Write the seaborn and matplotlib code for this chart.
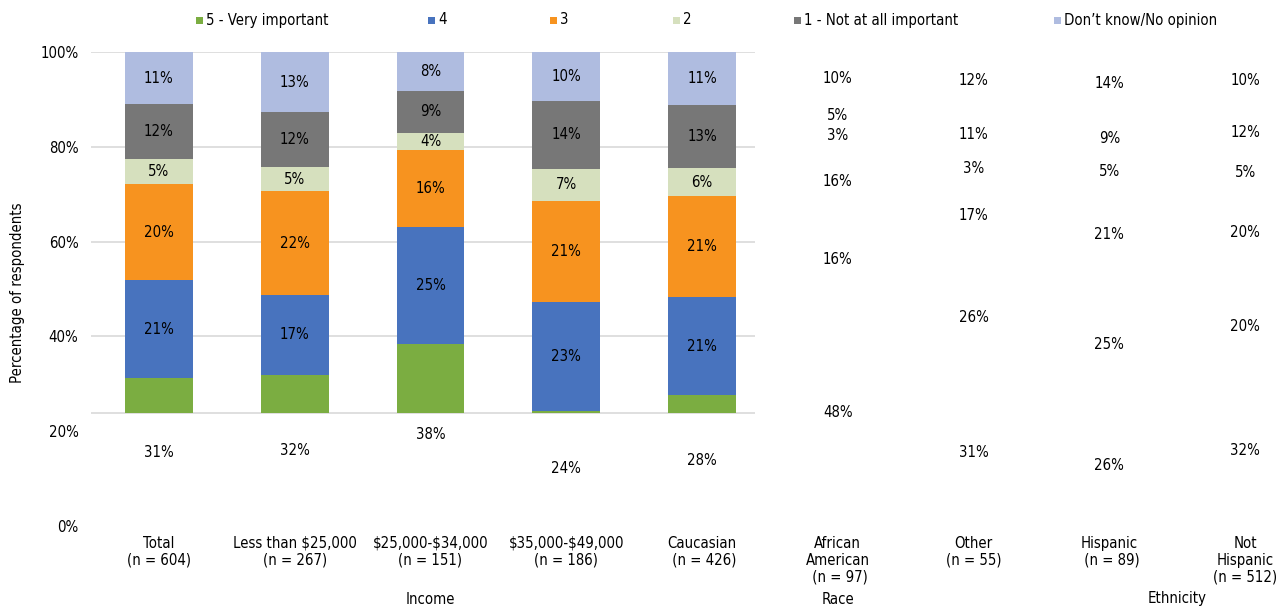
import numpy as np
import pandas as pd
import seaborn as sns
import matplotlib
matplotlib.use("Agg")
import matplotlib.pyplot as plt
from matplotlib.patches import Rectangle
from matplotlib.transforms import blended_transform_factory

# ---------------- data ----------------
categories = [
    "Total\n(n = 604)",
    "Less than \\$25,000\n(n = 267)",
    "\\$25,000\u2010\\$34,000\n(n = 151)",
    "\\$35,000\u2010\\$49,000\n(n = 186)",
    "Caucasian\n (n = 426)",
    "African\nAmerican\n (n = 97)",
    "Other\n(n = 55)",
    "Hispanic\n (n = 89)",
    "Not\nHispanic\n(n = 512)",
]
groups = ["Income", "Race", "Ethnicity"]
group_members = [[1, 2, 3], [4, 5, 6], [7, 8]]

series_names = ["5 - Very important", "4", "3", "2",
                "1 - Not at all important", "Don\u2019t know/No opinion"]
very_important = [31.2, 31.9, 38.4, 24.3, 27.6, 48.1, 31, 25.6, 32]
four = [20.6, 16.8, 24.6, 23.0, 20.7, 16.4, 26, 25.4, 20]
three = [20.4, 22.0, 16.4, 21.3, 21.3, 16.4, 17, 21.2, 20]
two = [5.2, 5.0, 3.6, 6.7, 5.9, 3.0, 3, 5.0, 5]
not_important = [11.6, 11.6, 8.7, 14.4, 13.4, 5.4, 11, 9.3, 12]
dont_know = [11.0, 12.7, 8.3, 10.3, 11.1, 10.2, 12, 13.5, 10]
series_values = [very_important, four, three, two, not_important, dont_know]
colors = ["#7BAD41", "#4873BE", "#F7931F", "#D6E0BE", "#777777", "#AFBCE0"]
y_ticks = [0, 20, 40, 60, 80, 100]
y_label = "Percentage of respondents"

# ---------------- style ----------------
sns.set_theme(style="white")
plt.rcParams["font.family"] = ["DejaVu Sans"]
plt.rcParams["font.stretch"] = "condensed"
FS = 10.7
W, H = 1281, 606
fig = plt.figure(figsize=(W / 100, H / 100), dpi=100, facecolor="white")
ax = fig.add_axes([91 / W, 80 / H, 1222 / W, 474 / H])
ax.set_facecolor("white")

# visible (clipped) plot window, data units
CLIP_X = 4.39
CLIP_Y = 23.8
clip_rect = Rectangle((-0.5, CLIP_Y), CLIP_X + 0.5, 100.6 - CLIP_Y,
                      transform=ax.transData, facecolor="none", edgecolor="none")

# gridlines
ax.hlines([t for t in y_ticks if t >= 40] + [CLIP_Y], -0.5, CLIP_X,
          colors="#D9D9D9", linewidth=1.2, zorder=0.5)

# stacked bars via seaborn (cumulative tops, drawn from top layer down)
vals = np.array(series_values, dtype=float)
cum = np.cumsum(vals, axis=0)
df = pd.DataFrame({"cat": categories})
for i in range(len(series_names) - 1, -1, -1):
    df["top"] = cum[i]
    sns.barplot(data=df, x="cat", y="top", order=categories, color=colors[i],
                saturation=1, width=0.5, linewidth=0, ax=ax, zorder=2)

for p in ax.patches:
    p.set_clip_path(clip_rect)

# data labels
for i in range(len(series_names)):
    bottoms = cum[i] - vals[i]
    for j in range(len(categories)):
        v = vals[i][j]
        ax.text(j, bottoms[j] + v / 2, f"{v:.0f}%", ha="center", va="center",
                fontsize=FS, color="black", zorder=5, clip_on=False)

ax.set_xlim(-0.5, 8.5)
ax.set_ylim(0, 100)
ax.set_yticks(y_ticks)
ax.set_yticklabels([f"{t}%" for t in y_ticks], fontsize=FS, color="black")
ax.set_xticks(range(len(categories)))
ax.set_xticklabels(categories, fontsize=FS, color="black", linespacing=1.17)
ax.tick_params(axis="both", length=0)
ax.tick_params(axis="y", pad=9)
ax.tick_params(axis="x", pad=7)
ax.set_xlabel("")
ax.set_ylabel("")
for s in ax.spines.values():
    s.set_visible(False)
ax.grid(False)

# group labels
tr = blended_transform_factory(ax.transData, fig.transFigure)
for g, members in zip(groups, group_members):
    ax.text(np.mean(members), 1 - 599 / H, g, ha="center", va="center",
            fontsize=FS, color="black", transform=tr, clip_on=False)

# y label
fig.text(18 / W, 1 - 293 / H, y_label, rotation=90, ha="center", va="center",
         fontsize=FS, color="black")

# legend (manual, fixed slots)
legend_x = [199, 431, 553, 676, 797, 1057]
for name, c, x in zip(series_names, colors, legend_x):
    fig.add_artist(Rectangle(((x - 3.5) / W, 1 - 23.5 / H), 7 / W, 7 / H,
                             transform=fig.transFigure, facecolor=c,
                             edgecolor="none"))
    fig.text((x + 7) / W, 1 - 20 / H, name, ha="left", va="center",
             fontsize=FS, color="black")

fig.savefig("out.png", dpi=100, facecolor="white")
